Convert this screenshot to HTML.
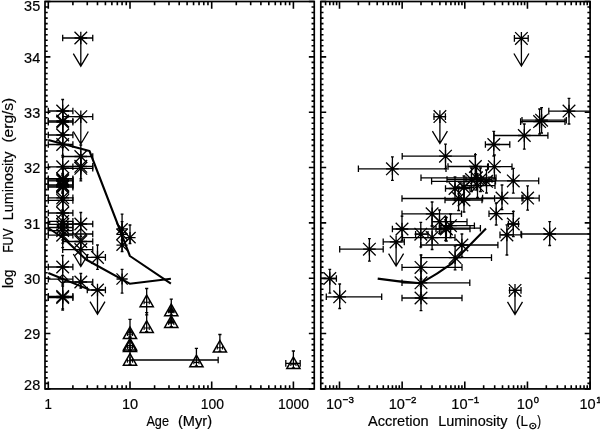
<!DOCTYPE html>
<html lang="en"><head><meta charset="utf-8"><title>FUV luminosity vs age and accretion luminosity</title>
<style>html,body{margin:0;padding:0;background:#fff}body{width:600px;height:430px;overflow:hidden}svg{display:block}text{font-family:"Liberation Sans",sans-serif;fill:#000;stroke:#000;stroke-width:0.18px}</style></head><body>
<svg width="600" height="430" viewBox="0 0 600 430">
<rect width="600" height="430" fill="#fff"/>
<defs><clipPath id="cl"><rect x="45" y="1.5" width="269.25" height="387.4"/></clipPath><clipPath id="cr"><rect x="320.8" y="1.5" width="269.3" height="387.4"/></clipPath></defs>
<g stroke="#000" fill="none" stroke-linecap="butt">
<rect x="45" y="1.5" width="269.25" height="387.4" stroke-width="1.7"/>
<path d="M48.3,388.9v-7.3 M48.3,1.5v7.3 M72.89,388.9v-3.7 M72.89,1.5v3.7 M87.28,388.9v-3.7 M87.28,1.5v3.7 M97.49,388.9v-3.7 M97.49,1.5v3.7 M105.41,388.9v-3.7 M105.41,1.5v3.7 M111.87,388.9v-3.7 M111.87,1.5v3.7 M117.34,388.9v-3.7 M117.34,1.5v3.7 M122.08,388.9v-3.7 M122.08,1.5v3.7 M126.26,388.9v-3.7 M126.26,1.5v3.7 M130,388.9v-7.3 M130,1.5v7.3 M154.59,388.9v-3.7 M154.59,1.5v3.7 M168.98,388.9v-3.7 M168.98,1.5v3.7 M179.19,388.9v-3.7 M179.19,1.5v3.7 M187.11,388.9v-3.7 M187.11,1.5v3.7 M193.57,388.9v-3.7 M193.57,1.5v3.7 M199.04,388.9v-3.7 M199.04,1.5v3.7 M203.78,388.9v-3.7 M203.78,1.5v3.7 M207.96,388.9v-3.7 M207.96,1.5v3.7 M211.7,388.9v-7.3 M211.7,1.5v7.3 M236.29,388.9v-3.7 M236.29,1.5v3.7 M250.68,388.9v-3.7 M250.68,1.5v3.7 M260.89,388.9v-3.7 M260.89,1.5v3.7 M268.81,388.9v-3.7 M268.81,1.5v3.7 M275.27,388.9v-3.7 M275.27,1.5v3.7 M280.74,388.9v-3.7 M280.74,1.5v3.7 M285.48,388.9v-3.7 M285.48,1.5v3.7 M289.66,388.9v-3.7 M289.66,1.5v3.7 M293.4,388.9v-7.3 M293.4,1.5v7.3 M45,388.9h5.4 M314.25,388.9h-5.4 M45,383.37h2.7 M314.25,383.37h-2.7 M45,377.83h2.7 M314.25,377.83h-2.7 M45,372.3h2.7 M314.25,372.3h-2.7 M45,366.76h2.7 M314.25,366.76h-2.7 M45,361.23h2.7 M314.25,361.23h-2.7 M45,355.69h2.7 M314.25,355.69h-2.7 M45,350.16h2.7 M314.25,350.16h-2.7 M45,344.63h2.7 M314.25,344.63h-2.7 M45,339.09h2.7 M314.25,339.09h-2.7 M45,333.56h5.4 M314.25,333.56h-5.4 M45,328.02h2.7 M314.25,328.02h-2.7 M45,322.49h2.7 M314.25,322.49h-2.7 M45,316.95h2.7 M314.25,316.95h-2.7 M45,311.42h2.7 M314.25,311.42h-2.7 M45,305.89h2.7 M314.25,305.89h-2.7 M45,300.35h2.7 M314.25,300.35h-2.7 M45,294.82h2.7 M314.25,294.82h-2.7 M45,289.28h2.7 M314.25,289.28h-2.7 M45,283.75h2.7 M314.25,283.75h-2.7 M45,278.21h5.4 M314.25,278.21h-5.4 M45,272.68h2.7 M314.25,272.68h-2.7 M45,267.15h2.7 M314.25,267.15h-2.7 M45,261.61h2.7 M314.25,261.61h-2.7 M45,256.08h2.7 M314.25,256.08h-2.7 M45,250.54h2.7 M314.25,250.54h-2.7 M45,245.01h2.7 M314.25,245.01h-2.7 M45,239.47h2.7 M314.25,239.47h-2.7 M45,233.94h2.7 M314.25,233.94h-2.7 M45,228.41h2.7 M314.25,228.41h-2.7 M45,222.87h5.4 M314.25,222.87h-5.4 M45,217.34h2.7 M314.25,217.34h-2.7 M45,211.8h2.7 M314.25,211.8h-2.7 M45,206.27h2.7 M314.25,206.27h-2.7 M45,200.73h2.7 M314.25,200.73h-2.7 M45,195.2h2.7 M314.25,195.2h-2.7 M45,189.67h2.7 M314.25,189.67h-2.7 M45,184.13h2.7 M314.25,184.13h-2.7 M45,178.6h2.7 M314.25,178.6h-2.7 M45,173.06h2.7 M314.25,173.06h-2.7 M45,167.53h5.4 M314.25,167.53h-5.4 M45,161.99h2.7 M314.25,161.99h-2.7 M45,156.46h2.7 M314.25,156.46h-2.7 M45,150.93h2.7 M314.25,150.93h-2.7 M45,145.39h2.7 M314.25,145.39h-2.7 M45,139.86h2.7 M314.25,139.86h-2.7 M45,134.32h2.7 M314.25,134.32h-2.7 M45,128.79h2.7 M314.25,128.79h-2.7 M45,123.25h2.7 M314.25,123.25h-2.7 M45,117.72h2.7 M314.25,117.72h-2.7 M45,112.19h5.4 M314.25,112.19h-5.4 M45,106.65h2.7 M314.25,106.65h-2.7 M45,101.12h2.7 M314.25,101.12h-2.7 M45,95.58h2.7 M314.25,95.58h-2.7 M45,90.05h2.7 M314.25,90.05h-2.7 M45,84.51h2.7 M314.25,84.51h-2.7 M45,78.98h2.7 M314.25,78.98h-2.7 M45,73.45h2.7 M314.25,73.45h-2.7 M45,67.91h2.7 M314.25,67.91h-2.7 M45,62.38h2.7 M314.25,62.38h-2.7 M45,56.84h5.4 M314.25,56.84h-5.4 M45,51.31h2.7 M314.25,51.31h-2.7 M45,45.77h2.7 M314.25,45.77h-2.7 M45,40.24h2.7 M314.25,40.24h-2.7 M45,34.71h2.7 M314.25,34.71h-2.7 M45,29.17h2.7 M314.25,29.17h-2.7 M45,23.64h2.7 M314.25,23.64h-2.7 M45,18.1h2.7 M314.25,18.1h-2.7 M45,12.57h2.7 M314.25,12.57h-2.7 M45,7.03h2.7 M314.25,7.03h-2.7 M45,1.5h5.4 M314.25,1.5h-5.4" stroke-width="1.6"/>
<rect x="320.8" y="1.5" width="269.3" height="387.4" stroke-width="1.7"/>
<path d="M325.6,388.9v-3.7 M325.6,1.5v3.7 M329.8,388.9v-3.7 M329.8,1.5v3.7 M333.43,388.9v-3.7 M333.43,1.5v3.7 M336.63,388.9v-3.7 M336.63,1.5v3.7 M339.5,388.9v-7.3 M339.5,1.5v7.3 M358.36,388.9v-3.7 M358.36,1.5v3.7 M369.39,388.9v-3.7 M369.39,1.5v3.7 M377.22,388.9v-3.7 M377.22,1.5v3.7 M383.29,388.9v-3.7 M383.29,1.5v3.7 M388.25,388.9v-3.7 M388.25,1.5v3.7 M392.45,388.9v-3.7 M392.45,1.5v3.7 M396.08,388.9v-3.7 M396.08,1.5v3.7 M399.28,388.9v-3.7 M399.28,1.5v3.7 M402.15,388.9v-7.3 M402.15,1.5v7.3 M421.01,388.9v-3.7 M421.01,1.5v3.7 M432.04,388.9v-3.7 M432.04,1.5v3.7 M439.87,388.9v-3.7 M439.87,1.5v3.7 M445.94,388.9v-3.7 M445.94,1.5v3.7 M450.9,388.9v-3.7 M450.9,1.5v3.7 M455.1,388.9v-3.7 M455.1,1.5v3.7 M458.73,388.9v-3.7 M458.73,1.5v3.7 M461.93,388.9v-3.7 M461.93,1.5v3.7 M464.8,388.9v-7.3 M464.8,1.5v7.3 M483.66,388.9v-3.7 M483.66,1.5v3.7 M494.69,388.9v-3.7 M494.69,1.5v3.7 M502.52,388.9v-3.7 M502.52,1.5v3.7 M508.59,388.9v-3.7 M508.59,1.5v3.7 M513.55,388.9v-3.7 M513.55,1.5v3.7 M517.75,388.9v-3.7 M517.75,1.5v3.7 M521.38,388.9v-3.7 M521.38,1.5v3.7 M524.58,388.9v-3.7 M524.58,1.5v3.7 M527.45,388.9v-7.3 M527.45,1.5v7.3 M546.31,388.9v-3.7 M546.31,1.5v3.7 M557.34,388.9v-3.7 M557.34,1.5v3.7 M565.17,388.9v-3.7 M565.17,1.5v3.7 M571.24,388.9v-3.7 M571.24,1.5v3.7 M576.2,388.9v-3.7 M576.2,1.5v3.7 M580.4,388.9v-3.7 M580.4,1.5v3.7 M584.03,388.9v-3.7 M584.03,1.5v3.7 M587.23,388.9v-3.7 M587.23,1.5v3.7 M590.1,388.9v-7.3 M590.1,1.5v7.3 M320.8,388.9h5.4 M590.1,388.9h-5.4 M320.8,383.37h2.7 M590.1,383.37h-2.7 M320.8,377.83h2.7 M590.1,377.83h-2.7 M320.8,372.3h2.7 M590.1,372.3h-2.7 M320.8,366.76h2.7 M590.1,366.76h-2.7 M320.8,361.23h2.7 M590.1,361.23h-2.7 M320.8,355.69h2.7 M590.1,355.69h-2.7 M320.8,350.16h2.7 M590.1,350.16h-2.7 M320.8,344.63h2.7 M590.1,344.63h-2.7 M320.8,339.09h2.7 M590.1,339.09h-2.7 M320.8,333.56h5.4 M590.1,333.56h-5.4 M320.8,328.02h2.7 M590.1,328.02h-2.7 M320.8,322.49h2.7 M590.1,322.49h-2.7 M320.8,316.95h2.7 M590.1,316.95h-2.7 M320.8,311.42h2.7 M590.1,311.42h-2.7 M320.8,305.89h2.7 M590.1,305.89h-2.7 M320.8,300.35h2.7 M590.1,300.35h-2.7 M320.8,294.82h2.7 M590.1,294.82h-2.7 M320.8,289.28h2.7 M590.1,289.28h-2.7 M320.8,283.75h2.7 M590.1,283.75h-2.7 M320.8,278.21h5.4 M590.1,278.21h-5.4 M320.8,272.68h2.7 M590.1,272.68h-2.7 M320.8,267.15h2.7 M590.1,267.15h-2.7 M320.8,261.61h2.7 M590.1,261.61h-2.7 M320.8,256.08h2.7 M590.1,256.08h-2.7 M320.8,250.54h2.7 M590.1,250.54h-2.7 M320.8,245.01h2.7 M590.1,245.01h-2.7 M320.8,239.47h2.7 M590.1,239.47h-2.7 M320.8,233.94h2.7 M590.1,233.94h-2.7 M320.8,228.41h2.7 M590.1,228.41h-2.7 M320.8,222.87h5.4 M590.1,222.87h-5.4 M320.8,217.34h2.7 M590.1,217.34h-2.7 M320.8,211.8h2.7 M590.1,211.8h-2.7 M320.8,206.27h2.7 M590.1,206.27h-2.7 M320.8,200.73h2.7 M590.1,200.73h-2.7 M320.8,195.2h2.7 M590.1,195.2h-2.7 M320.8,189.67h2.7 M590.1,189.67h-2.7 M320.8,184.13h2.7 M590.1,184.13h-2.7 M320.8,178.6h2.7 M590.1,178.6h-2.7 M320.8,173.06h2.7 M590.1,173.06h-2.7 M320.8,167.53h5.4 M590.1,167.53h-5.4 M320.8,161.99h2.7 M590.1,161.99h-2.7 M320.8,156.46h2.7 M590.1,156.46h-2.7 M320.8,150.93h2.7 M590.1,150.93h-2.7 M320.8,145.39h2.7 M590.1,145.39h-2.7 M320.8,139.86h2.7 M590.1,139.86h-2.7 M320.8,134.32h2.7 M590.1,134.32h-2.7 M320.8,128.79h2.7 M590.1,128.79h-2.7 M320.8,123.25h2.7 M590.1,123.25h-2.7 M320.8,117.72h2.7 M590.1,117.72h-2.7 M320.8,112.19h5.4 M590.1,112.19h-5.4 M320.8,106.65h2.7 M590.1,106.65h-2.7 M320.8,101.12h2.7 M590.1,101.12h-2.7 M320.8,95.58h2.7 M590.1,95.58h-2.7 M320.8,90.05h2.7 M590.1,90.05h-2.7 M320.8,84.51h2.7 M590.1,84.51h-2.7 M320.8,78.98h2.7 M590.1,78.98h-2.7 M320.8,73.45h2.7 M590.1,73.45h-2.7 M320.8,67.91h2.7 M590.1,67.91h-2.7 M320.8,62.38h2.7 M590.1,62.38h-2.7 M320.8,56.84h5.4 M590.1,56.84h-5.4 M320.8,51.31h2.7 M590.1,51.31h-2.7 M320.8,45.77h2.7 M590.1,45.77h-2.7 M320.8,40.24h2.7 M590.1,40.24h-2.7 M320.8,34.71h2.7 M590.1,34.71h-2.7 M320.8,29.17h2.7 M590.1,29.17h-2.7 M320.8,23.64h2.7 M590.1,23.64h-2.7 M320.8,18.1h2.7 M590.1,18.1h-2.7 M320.8,12.57h2.7 M590.1,12.57h-2.7 M320.8,7.03h2.7 M590.1,7.03h-2.7 M320.8,1.5h5.4 M590.1,1.5h-5.4" stroke-width="1.6"/>
</g>
<g stroke="#000" fill="none" clip-path="url(#cl)">
<path d="M48.3,111H72.89 M48.3,107.7V114.3 M72.89,107.7V114.3" stroke-width="1.3"/>
<path d="M62.69,99.5V123.5 M61.29,99.5H64.09 M61.29,123.5H64.09" stroke-width="1.3"/>
<path d="M56.39,111H68.99 M62.69,104.7V117.3 M56.39,104.7L68.99,117.3 M56.39,117.3L68.99,104.7" stroke-width="1.3"/>
<path d="M48.3,121H72.89 M48.3,117.7V124.3 M72.89,117.7V124.3" stroke-width="1.3"/>
<path d="M62.69,109.5V133.5 M61.29,109.5H64.09 M61.29,133.5H64.09" stroke-width="1.3"/>
<path d="M56.39,121H68.99 M62.69,114.7V127.3 M56.39,114.7L68.99,127.3 M56.39,127.3L68.99,114.7" stroke-width="1.3"/>
<path d="M48.3,122.2H72.89 M48.3,118.9V125.5 M72.89,118.9V125.5" stroke-width="1.3"/>
<path d="M62.69,110.7V134.7 M61.29,110.7H64.09 M61.29,134.7H64.09" stroke-width="1.3"/>
<path d="M56.39,122.2H68.99 M62.69,115.9V128.5 M56.39,115.9L68.99,128.5 M56.39,128.5L68.99,115.9" stroke-width="1.3"/>
<path d="M48.3,135H72.89 M48.3,131.7V138.3 M72.89,131.7V138.3" stroke-width="1.3"/>
<path d="M62.69,123.5V147.5 M61.29,123.5H64.09 M61.29,147.5H64.09" stroke-width="1.3"/>
<path d="M56.39,135H68.99 M62.69,128.7V141.3 M56.39,128.7L68.99,141.3 M56.39,141.3L68.99,128.7" stroke-width="1.3"/>
<path d="M48.3,144.5H72.89 M48.3,141.2V147.8 M72.89,141.2V147.8" stroke-width="1.3"/>
<path d="M62.69,133V157 M61.29,133H64.09 M61.29,157H64.09" stroke-width="1.3"/>
<path d="M56.39,144.5H68.99 M62.69,138.2V150.8 M56.39,138.2L68.99,150.8 M56.39,150.8L68.99,138.2" stroke-width="1.3"/>
<path d="M48.3,166.8H72.89 M48.3,163.5V170.1 M72.89,163.5V170.1" stroke-width="1.3"/>
<path d="M62.69,155.3V179.3 M61.29,155.3H64.09 M61.29,179.3H64.09" stroke-width="1.3"/>
<path d="M56.39,166.8H68.99 M62.69,160.5V173.1 M56.39,160.5L68.99,173.1 M56.39,173.1L68.99,160.5" stroke-width="1.3"/>
<path d="M48.3,178.7H72.89 M48.3,175.4V182 M72.89,175.4V182" stroke-width="1.3"/>
<path d="M62.69,167.2V191.2 M61.29,167.2H64.09 M61.29,191.2H64.09" stroke-width="1.3"/>
<path d="M56.39,178.7H68.99 M62.69,172.4V185 M56.39,172.4L68.99,185 M56.39,185L68.99,172.4" stroke-width="1.3"/>
<path d="M48.3,179.8H72.89 M48.3,176.5V183.1 M72.89,176.5V183.1" stroke-width="1.3"/>
<path d="M62.69,168.3V192.3 M61.29,168.3H64.09 M61.29,192.3H64.09" stroke-width="1.3"/>
<path d="M56.39,179.8H68.99 M62.69,173.5V186.1 M56.39,173.5L68.99,186.1 M56.39,186.1L68.99,173.5" stroke-width="1.3"/>
<path d="M48.3,180.9H72.89 M48.3,177.6V184.2 M72.89,177.6V184.2" stroke-width="1.3"/>
<path d="M62.69,169.4V193.4 M61.29,169.4H64.09 M61.29,193.4H64.09" stroke-width="1.3"/>
<path d="M56.39,180.9H68.99 M62.69,174.6V187.2 M56.39,174.6L68.99,187.2 M56.39,187.2L68.99,174.6" stroke-width="1.3"/>
<path d="M48.3,184.8H72.89 M48.3,181.5V188.1 M72.89,181.5V188.1" stroke-width="1.3"/>
<path d="M62.69,173.3V197.3 M61.29,173.3H64.09 M61.29,197.3H64.09" stroke-width="1.3"/>
<path d="M56.39,184.8H68.99 M62.69,178.5V191.1 M56.39,178.5L68.99,191.1 M56.39,191.1L68.99,178.5" stroke-width="1.3"/>
<path d="M48.3,186H72.89 M48.3,182.7V189.3 M72.89,182.7V189.3" stroke-width="1.3"/>
<path d="M62.69,174.5V198.5 M61.29,174.5H64.09 M61.29,198.5H64.09" stroke-width="1.3"/>
<path d="M56.39,186H68.99 M62.69,179.7V192.3 M56.39,179.7L68.99,192.3 M56.39,192.3L68.99,179.7" stroke-width="1.3"/>
<path d="M48.3,187.2H72.89 M48.3,183.9V190.5 M72.89,183.9V190.5" stroke-width="1.3"/>
<path d="M62.69,175.7V199.7 M61.29,175.7H64.09 M61.29,199.7H64.09" stroke-width="1.3"/>
<path d="M56.39,187.2H68.99 M62.69,180.9V193.5 M56.39,180.9L68.99,193.5 M56.39,193.5L68.99,180.9" stroke-width="1.3"/>
<path d="M48.3,197.8H72.89 M48.3,194.5V201.1 M72.89,194.5V201.1" stroke-width="1.3"/>
<path d="M62.69,186.3V210.3 M61.29,186.3H64.09 M61.29,210.3H64.09" stroke-width="1.3"/>
<path d="M56.39,197.8H68.99 M62.69,191.5V204.1 M56.39,191.5L68.99,204.1 M56.39,204.1L68.99,191.5" stroke-width="1.3"/>
<path d="M48.3,200.4H72.89 M48.3,197.1V203.7 M72.89,197.1V203.7" stroke-width="1.3"/>
<path d="M62.69,188.9V212.9 M61.29,188.9H64.09 M61.29,212.9H64.09" stroke-width="1.3"/>
<path d="M56.39,200.4H68.99 M62.69,194.1V206.7 M56.39,194.1L68.99,206.7 M56.39,206.7L68.99,194.1" stroke-width="1.3"/>
<path d="M48.3,213H72.89 M48.3,209.7V216.3 M72.89,209.7V216.3" stroke-width="1.3"/>
<path d="M62.69,201.5V225.5 M61.29,201.5H64.09 M61.29,225.5H64.09" stroke-width="1.3"/>
<path d="M56.39,213H68.99 M62.69,206.7V219.3 M56.39,206.7L68.99,219.3 M56.39,219.3L68.99,206.7" stroke-width="1.3"/>
<path d="M48.3,221.4H72.89 M48.3,218.1V224.7 M72.89,218.1V224.7" stroke-width="1.3"/>
<path d="M62.69,209.9V233.9 M61.29,209.9H64.09 M61.29,233.9H64.09" stroke-width="1.3"/>
<path d="M56.39,221.4H68.99 M62.69,215.1V227.7 M56.39,215.1L68.99,227.7 M56.39,227.7L68.99,215.1" stroke-width="1.3"/>
<path d="M48.3,224.4H72.89 M48.3,221.1V227.7 M72.89,221.1V227.7" stroke-width="1.3"/>
<path d="M62.69,212.9V236.9 M61.29,212.9H64.09 M61.29,236.9H64.09" stroke-width="1.3"/>
<path d="M56.39,224.4H68.99 M62.69,218.1V230.7 M56.39,218.1L68.99,230.7 M56.39,230.7L68.99,218.1" stroke-width="1.3"/>
<path d="M48.3,227.5H72.89 M48.3,224.2V230.8 M72.89,224.2V230.8" stroke-width="1.3"/>
<path d="M62.69,216V240 M61.29,216H64.09 M61.29,240H64.09" stroke-width="1.3"/>
<path d="M56.39,227.5H68.99 M62.69,221.2V233.8 M56.39,221.2L68.99,233.8 M56.39,233.8L68.99,221.2" stroke-width="1.3"/>
<path d="M48.3,230.6H72.89 M48.3,227.3V233.9 M72.89,227.3V233.9" stroke-width="1.3"/>
<path d="M62.69,219.1V243.1 M61.29,219.1H64.09 M61.29,243.1H64.09" stroke-width="1.3"/>
<path d="M56.39,230.6H68.99 M62.69,224.3V236.9 M56.39,224.3L68.99,236.9 M56.39,236.9L68.99,224.3" stroke-width="1.3"/>
<path d="M48.3,235.2H72.89 M48.3,231.9V238.5 M72.89,231.9V238.5" stroke-width="1.3"/>
<path d="M62.69,223.7V247.7 M61.29,223.7H64.09 M61.29,247.7H64.09" stroke-width="1.3"/>
<path d="M56.39,235.2H68.99 M62.69,228.9V241.5 M56.39,228.9L68.99,241.5 M56.39,241.5L68.99,228.9" stroke-width="1.3"/>
<path d="M48.3,267H72.89 M48.3,263.7V270.3 M72.89,263.7V270.3" stroke-width="1.3"/>
<path d="M62.69,255.5V279.5 M61.29,255.5H64.09 M61.29,279.5H64.09" stroke-width="1.3"/>
<path d="M56.39,267H68.99 M62.69,260.7V273.3 M56.39,260.7L68.99,273.3 M56.39,273.3L68.99,260.7" stroke-width="1.3"/>
<path d="M48.3,296.4H72.89 M48.3,293.1V299.7 M72.89,293.1V299.7" stroke-width="1.3"/>
<path d="M62.69,284.9V308.9 M61.29,284.9H64.09 M61.29,308.9H64.09" stroke-width="1.3"/>
<path d="M56.39,296.4H68.99 M62.69,290.1V302.7 M56.39,290.1L68.99,302.7 M56.39,302.7L68.99,290.1" stroke-width="1.3"/>
<path d="M48.3,297.6H72.89 M48.3,294.3V300.9 M72.89,294.3V300.9" stroke-width="1.3"/>
<path d="M62.69,286.1V310.1 M61.29,286.1H64.09 M61.29,310.1H64.09" stroke-width="1.3"/>
<path d="M56.39,297.6H68.99 M62.69,291.3V303.9 M56.39,291.3L68.99,303.9 M56.39,303.9L68.99,291.3" stroke-width="1.3"/>
<path d="M48.3,279.2H72.89 M48.3,275.9V282.5 M72.89,275.9V282.5" stroke-width="1.3"/>
<path d="M62.69,274.6L67.29,279.2L62.69,283.8L58.09,279.2Z" stroke-width="1.3"/>
<path d="M62.69,234H92.75 M62.69,230.7V237.3 M92.75,230.7V237.3" stroke-width="1.3"/>
<path d="M80.81,228.7L86.31,234.2L80.81,239.7L75.31,234.2Z" stroke-width="1.3"/>
<path d="M62.69,156.5H92.75 M62.69,153.2V159.8 M92.75,153.2V159.8" stroke-width="1.3"/>
<path d="M80.81,145V169 M79.41,145H82.21 M79.41,169H82.21" stroke-width="1.3"/>
<path d="M74.51,156.5H87.11 M80.81,150.2V162.8 M74.51,150.2L87.11,162.8 M74.51,162.8L87.11,150.2" stroke-width="1.3"/>
<path d="M62.69,166.3H92.75 M62.69,163V169.6 M92.75,163V169.6" stroke-width="1.3"/>
<path d="M80.81,154.8V178.8 M79.41,154.8H82.21 M79.41,178.8H82.21" stroke-width="1.3"/>
<path d="M74.51,166.3H87.11 M80.81,160V172.6 M74.51,160L87.11,172.6 M74.51,172.6L87.11,160" stroke-width="1.3"/>
<path d="M62.69,168.3H92.75 M62.69,165V171.6 M92.75,165V171.6" stroke-width="1.3"/>
<path d="M80.81,156.8V180.8 M79.41,156.8H82.21 M79.41,180.8H82.21" stroke-width="1.3"/>
<path d="M74.51,168.3H87.11 M80.81,162V174.6 M74.51,162L87.11,174.6 M74.51,174.6L87.11,162" stroke-width="1.3"/>
<path d="M62.69,224H92.75 M62.69,220.7V227.3 M92.75,220.7V227.3" stroke-width="1.3"/>
<path d="M80.81,212.5V236.5 M79.41,212.5H82.21 M79.41,236.5H82.21" stroke-width="1.3"/>
<path d="M74.51,224H87.11 M80.81,217.7V230.3 M74.51,217.7L87.11,230.3 M74.51,230.3L87.11,217.7" stroke-width="1.3"/>
<path d="M62.69,249.6H92.75 M62.69,246.3V252.9 M92.75,246.3V252.9" stroke-width="1.3"/>
<path d="M74.51,249.6H87.11 M80.81,243.3V255.9 M74.51,243.3L87.11,255.9 M74.51,255.9L87.11,243.3" stroke-width="1.3"/>
<path d="M62.69,282H92.75 M62.69,278.7V285.3 M92.75,278.7V285.3" stroke-width="1.3"/>
<path d="M80.81,273.5V288 M79.41,273.5H82.21 M79.41,288H82.21" stroke-width="1.3"/>
<path d="M74.51,282H87.11 M80.81,275.7V288.3 M74.51,275.7L87.11,288.3 M74.51,288.3L87.11,275.7" stroke-width="1.3"/>
<path d="M62.69,38H92.75 M62.69,34.7V41.3 M92.75,34.7V41.3" stroke-width="1.3"/>
<path d="M74.51,38H87.11 M80.81,31.7V44.3 M74.51,31.7L87.11,44.3 M74.51,44.3L87.11,31.7" stroke-width="1.3"/>
<path d="M80.81,38V66.2 M73.31,53.7L80.81,66.2L88.31,53.7" stroke-width="1.3" stroke-linejoin="miter"/>
<path d="M62.69,116.7H92.75 M62.69,113.4V120 M92.75,113.4V120" stroke-width="1.3"/>
<path d="M74.51,116.7H87.11 M80.81,110.4V123 M74.51,110.4L87.11,123 M74.51,123L87.11,110.4" stroke-width="1.3"/>
<path d="M80.81,116.7V144 M73.31,131.5L80.81,144L88.31,131.5" stroke-width="1.3" stroke-linejoin="miter"/>
<path d="M62.69,241.5H92.75 M62.69,238.2V244.8 M92.75,238.2V244.8" stroke-width="1.3"/>
<path d="M74.51,241.5H87.11 M80.81,235.2V247.8 M74.51,235.2L87.11,247.8 M74.51,247.8L87.11,235.2" stroke-width="1.3"/>
<path d="M80.81,241.5V266.5 M73.31,254L80.81,266.5L88.31,254" stroke-width="1.3" stroke-linejoin="miter"/>
<path d="M87.28,257.4H105.41 M87.28,254.1V260.7 M105.41,254.1V260.7" stroke-width="1.3"/>
<path d="M97.49,245V269.4 M96.09,245H98.89 M96.09,269.4H98.89" stroke-width="1.3"/>
<path d="M91.19,257.4H103.79 M97.49,251.1V263.7 M91.19,251.1L103.79,263.7 M91.19,263.7L103.79,251.1" stroke-width="1.3"/>
<path d="M87.28,290H105.41 M87.28,286.7V293.3 M105.41,286.7V293.3" stroke-width="1.3"/>
<path d="M91.19,290H103.79 M97.49,283.7V296.3 M91.19,283.7L103.79,296.3 M91.19,296.3L103.79,283.7" stroke-width="1.3"/>
<path d="M97.49,290V314.2 M89.99,301.7L97.49,314.2L104.99,301.7" stroke-width="1.3" stroke-linejoin="miter"/>
<path d="M122.08,214.2V240 M120.68,214.2H123.48 M120.68,240H123.48" stroke-width="1.3"/>
<path d="M116.48,228.8H127.68 M122.08,223.2V234.4 M116.48,223.2L127.68,234.4 M116.48,234.4L127.68,223.2" stroke-width="1.3"/>
<path d="M122.08,221.6V245 M120.68,221.6H123.48 M120.68,245H123.48" stroke-width="1.3"/>
<path d="M116.48,234.4H127.68 M122.08,228.8V240 M116.48,228.8L127.68,240 M116.48,240L127.68,228.8" stroke-width="1.3"/>
<path d="M122.08,233.5V251.5 M120.68,233.5H123.48 M120.68,251.5H123.48" stroke-width="1.3"/>
<path d="M116.48,245.2H127.68 M122.08,239.6V250.8 M116.48,239.6L127.68,250.8 M116.48,250.8L127.68,239.6" stroke-width="1.3"/>
<path d="M130,225V243.5 M128.6,225H131.4 M128.6,243.5H131.4" stroke-width="1.3"/>
<path d="M124.4,237.6H135.6 M130,232V243.2 M124.4,232L135.6,243.2 M124.4,243.2L135.6,232" stroke-width="1.3"/>
<path d="M122.08,269.3V293.2 M120.68,269.3H123.48 M120.68,293.2H123.48" stroke-width="1.3"/>
<path d="M116.48,279H127.68 M122.08,273.4V284.6 M116.48,273.4L127.68,284.6 M116.48,284.6L127.68,273.4" stroke-width="1.3"/>
<path d="M146.68,295.1L153.28,306.7L140.08,306.7Z" stroke-width="1.5" stroke-linejoin="miter"/>
<path d="M146.68,288.5V314.9 M145.08,288.5H148.28 M145.08,314.9H148.28" stroke-width="1.3"/>
<path d="M144.08,302.3H149.28 M144.08,300.4V304.2 M149.28,300.4V304.2" stroke-width="1.1"/>
<path d="M146.68,320.8L153.28,332.4L140.08,332.4Z" stroke-width="1.5" stroke-linejoin="miter"/>
<path d="M146.68,312.6V331.6 M145.08,312.6H148.28 M145.08,331.6H148.28" stroke-width="1.3"/>
<path d="M144.08,328H149.28 M144.08,326.1V329.9 M149.28,326.1V329.9" stroke-width="1.1"/>
<path d="M171.27,304.1L177.87,315.7L164.67,315.7Z" stroke-width="1.5" stroke-linejoin="miter"/>
<path d="M171.27,299.1V314.9 M169.67,299.1H172.87 M169.67,314.9H172.87" stroke-width="1.3"/>
<path d="M168.67,311.3H173.87 M168.67,309.4V313.2 M173.87,309.4V313.2" stroke-width="1.1"/>
<path d="M171.27,315.8L177.87,327.4L164.67,327.4Z" stroke-width="1.5" stroke-linejoin="miter"/>
<path d="M171.27,312.6V326.6 M169.67,312.6H172.87 M169.67,326.6H172.87" stroke-width="1.3"/>
<path d="M168.67,323H173.87 M168.67,321.1V324.9 M173.87,321.1V324.9" stroke-width="1.1"/>
<path d="M171.27,305.5L174.47,312.2L168.07,312.2Z" stroke-width="0.8" fill="#000"/>
<path d="M171.27,317.2L174.07,323L168.47,323Z" stroke-width="0.8" fill="#000"/>
<path d="M130,328.4L132.2,333L127.8,333Z" stroke-width="0.8" fill="#000"/>
<path d="M130,327L136.6,338.6L123.4,338.6Z" stroke-width="1.5" stroke-linejoin="miter"/>
<path d="M130,319.4V337.8 M128.4,319.4H131.6 M128.4,337.8H131.6" stroke-width="1.3"/>
<path d="M127.4,334.2H132.6 M127.4,332.3V336.1 M132.6,332.3V336.1" stroke-width="1.1"/>
<path d="M130,338.4L136.6,350L123.4,350Z" stroke-width="1.5" stroke-linejoin="miter"/>
<path d="M130,336.2V349.2 M128.4,336.2H131.6 M128.4,349.2H131.6" stroke-width="1.3"/>
<path d="M127.4,345.6H132.6 M127.4,343.7V347.5 M132.6,343.7V347.5" stroke-width="1.1"/>
<path d="M130,340L136.6,351.6L123.4,351.6Z" stroke-width="1.5" stroke-linejoin="miter"/>
<path d="M130,337.8V350.8 M128.4,337.8H131.6 M128.4,350.8H131.6" stroke-width="1.3"/>
<path d="M127.4,347.2H132.6 M127.4,345.3V349.1 M132.6,345.3V349.1" stroke-width="1.1"/>
<path d="M130,353.6L136.6,365.2L123.4,365.2Z" stroke-width="1.5" stroke-linejoin="miter"/>
<path d="M130,350.4V364.4 M128.4,350.4H131.6 M128.4,364.4H131.6" stroke-width="1.3"/>
<path d="M130,360H218.17 M130,356.7V363.3 M218.17,356.7V363.3" stroke-width="1.3"/>
<path d="M127.4,360.8H132.6 M127.4,358.9V362.7 M132.6,358.9V362.7" stroke-width="1.1"/>
<path d="M196.42,355.2L203.02,366.8L189.82,366.8Z" stroke-width="1.5" stroke-linejoin="miter"/>
<path d="M196.42,348.4V366 M194.82,348.4H198.02 M194.82,366H198.02" stroke-width="1.3"/>
<path d="M193.82,362.4H199.02 M193.82,360.5V364.3 M199.02,360.5V364.3" stroke-width="1.1"/>
<path d="M219.9,340.5L226.5,352.1L213.3,352.1Z" stroke-width="1.5" stroke-linejoin="miter"/>
<path d="M219.9,334.5V351.3 M218.3,334.5H221.5 M218.3,351.3H221.5" stroke-width="1.3"/>
<path d="M217.3,347.7H222.5 M217.3,345.8V349.6 M222.5,345.8V349.6" stroke-width="1.1"/>
<path d="M293.4,357L300,368.6L286.8,368.6Z" stroke-width="1.5" stroke-linejoin="miter"/>
<path d="M293.4,351V367.8 M291.8,351H295 M291.8,367.8H295" stroke-width="1.3"/>
<path d="M285.8,363.4H300.2 M285.8,360.1V366.7 M300.2,360.1V366.7" stroke-width="1.3"/>
<path d="M290.8,364.2H296 M290.8,362.3V366.1 M296,362.3V366.1" stroke-width="1.1"/>
<path d="M48.3,140L89.5,151L129.9,256L170.9,283.6" stroke-width="2.1" stroke-linejoin="round"/>
<path d="M48.3,228L64,238.5L86,259.5L129.7,283.7L170.9,278.8" stroke-width="2.1" stroke-linejoin="round"/>
<path d="M48.3,273L89.3,289.6" stroke-width="2.1"/>
</g>
<g stroke="#000" fill="none" clip-path="url(#cr)">
<path d="M548.8,111.1H600 M548.8,107.8V114.4 M600,107.8V114.4" stroke-width="1.3"/>
<path d="M569,98.3V124 M567.6,98.3H570.4 M567.6,124H570.4" stroke-width="1.3"/>
<path d="M562.7,111.1H575.3 M569,104.8V117.4 M562.7,104.8L575.3,117.4 M562.7,117.4L575.3,104.8" stroke-width="1.3"/>
<path d="M520.6,121.6H565 M520.6,118.3V124.9 M565,118.3V124.9" stroke-width="1.3"/>
<path d="M539.6,109V134 M538.2,109H541 M538.2,134H541" stroke-width="1.3"/>
<path d="M533.3,121.6H545.9 M539.6,115.3V127.9 M533.3,115.3L545.9,127.9 M533.3,127.9L545.9,115.3" stroke-width="1.3"/>
<path d="M522,120.2H566.3 M522,116.9V123.5 M566.3,116.9V123.5" stroke-width="1.3"/>
<path d="M541.6,107.6V133 M540.2,107.6H543 M540.2,133H543" stroke-width="1.3"/>
<path d="M535.3,120.2H547.9 M541.6,113.9V126.5 M535.3,113.9L547.9,126.5 M535.3,126.5L547.9,113.9" stroke-width="1.3"/>
<path d="M494,135.5H547.9 M494,132.2V138.8 M547.9,132.2V138.8" stroke-width="1.3"/>
<path d="M524.3,124V149.1 M522.9,124H525.7 M522.9,149.1H525.7" stroke-width="1.3"/>
<path d="M518,135.5H530.6 M524.3,129.2V141.8 M518,129.2L530.6,141.8 M518,141.8L530.6,129.2" stroke-width="1.3"/>
<path d="M485.4,144.5H509.8 M485.4,141.2V147.8 M509.8,141.2V147.8" stroke-width="1.3"/>
<path d="M493.8,131.3V156 M492.4,131.3H495.2 M492.4,156H495.2" stroke-width="1.3"/>
<path d="M487.5,144.5H500.1 M493.8,138.2V150.8 M487.5,138.2L500.1,150.8 M487.5,150.8L500.1,138.2" stroke-width="1.3"/>
<path d="M402.2,156.2H475.3 M402.2,152.9V159.5 M475.3,152.9V159.5" stroke-width="1.3"/>
<path d="M445.5,144.2V168.6 M444.1,144.2H446.9 M444.1,168.6H446.9" stroke-width="1.3"/>
<path d="M439.2,156.2H451.8 M445.5,149.9V162.5 M439.2,149.9L451.8,162.5 M439.2,162.5L451.8,149.9" stroke-width="1.3"/>
<path d="M448,166.5H488.4 M448,163.2V169.8 M488.4,163.2V169.8" stroke-width="1.3"/>
<path d="M475.4,154.6V178.6 M474,154.6H476.8 M474,178.6H476.8" stroke-width="1.3"/>
<path d="M469.1,166.5H481.7 M475.4,160.2V172.8 M469.1,160.2L481.7,172.8 M469.1,172.8L481.7,160.2" stroke-width="1.3"/>
<path d="M487.6,166.7H512 M487.6,163.4V170 M512,163.4V170" stroke-width="1.3"/>
<path d="M494.4,155V179 M493,155H495.8 M493,179H495.8" stroke-width="1.3"/>
<path d="M488.1,166.7H500.7 M494.4,160.4V173 M488.1,160.4L500.7,173 M488.1,173L500.7,160.4" stroke-width="1.3"/>
<path d="M358.4,168.8H446 M358.4,165.5V172.1 M446,165.5V172.1" stroke-width="1.3"/>
<path d="M392.4,156.9V180.4 M391,156.9H393.8 M391,180.4H393.8" stroke-width="1.3"/>
<path d="M386.1,168.8H398.7 M392.4,162.5V175.1 M386.1,162.5L398.7,175.1 M386.1,175.1L398.7,162.5" stroke-width="1.3"/>
<path d="M445.5,188.5H470 M445.5,185.2V191.8 M470,185.2V191.8" stroke-width="1.3"/>
<path d="M455,177V200.5 M453.6,177H456.4 M453.6,200.5H456.4" stroke-width="1.3"/>
<path d="M448.7,188.5H461.3 M455,182.2V194.8 M448.7,182.2L461.3,194.8 M448.7,194.8L461.3,182.2" stroke-width="1.3"/>
<path d="M455,187.5H474 M455,184.2V190.8 M474,184.2V190.8" stroke-width="1.3"/>
<path d="M464,176V199.5 M462.6,176H465.4 M462.6,199.5H465.4" stroke-width="1.3"/>
<path d="M457.7,187.5H470.3 M464,181.2V193.8 M457.7,181.2L470.3,193.8 M457.7,193.8L470.3,181.2" stroke-width="1.3"/>
<path d="M447,179.5H489 M447,176.2V182.8 M489,176.2V182.8" stroke-width="1.3"/>
<path d="M471.5,168V191.5 M470.1,168H472.9 M470.1,191.5H472.9" stroke-width="1.3"/>
<path d="M465.2,179.5H477.8 M471.5,173.2V185.8 M465.2,173.2L477.8,185.8 M465.2,185.8L477.8,173.2" stroke-width="1.3"/>
<path d="M421,177.8H496 M421,174.5V181.1 M496,174.5V181.1" stroke-width="1.3"/>
<path d="M476.5,166V190 M475.1,166H477.9 M475.1,190H477.9" stroke-width="1.3"/>
<path d="M470.2,177.8H482.8 M476.5,171.5V184.1 M470.2,171.5L482.8,184.1 M470.2,184.1L482.8,171.5" stroke-width="1.3"/>
<path d="M466,179.5H492 M466,176.2V182.8 M492,176.2V182.8" stroke-width="1.3"/>
<path d="M480.5,168V191.5 M479.1,168H481.9 M479.1,191.5H481.9" stroke-width="1.3"/>
<path d="M474.2,179.5H486.8 M480.5,173.2V185.8 M474.2,173.2L486.8,185.8 M474.2,185.8L486.8,173.2" stroke-width="1.3"/>
<path d="M431.6,181.3H495.5 M431.6,178V184.6 M495.5,178V184.6" stroke-width="1.3"/>
<path d="M486.5,170V193 M485.1,170H487.9 M485.1,193H487.9" stroke-width="1.3"/>
<path d="M480.2,181.3H492.8 M486.5,175V187.6 M480.2,175L492.8,187.6 M480.2,187.6L492.8,175" stroke-width="1.3"/>
<path d="M462,185.6H495 M462,182.3V188.9 M495,182.3V188.9" stroke-width="1.3"/>
<path d="M477.5,174V197.5 M476.1,174H478.9 M476.1,197.5H478.9" stroke-width="1.3"/>
<path d="M471.2,185.6H483.8 M477.5,179.3V191.9 M471.2,179.3L483.8,191.9 M471.2,191.9L483.8,179.3" stroke-width="1.3"/>
<path d="M402,198.5H494.6 M402,195.2V201.8 M494.6,195.2V201.8" stroke-width="1.3"/>
<path d="M458.6,187V210.5 M457.2,187H460 M457.2,210.5H460" stroke-width="1.3"/>
<path d="M452.3,198.5H464.9 M458.6,192.2V204.8 M452.3,192.2L464.9,204.8 M452.3,204.8L464.9,192.2" stroke-width="1.3"/>
<path d="M445,200H482 M445,196.7V203.3 M482,196.7V203.3" stroke-width="1.3"/>
<path d="M464,188.5V212 M462.6,188.5H465.4 M462.6,212H465.4" stroke-width="1.3"/>
<path d="M457.7,200H470.3 M464,193.7V206.3 M457.7,193.7L470.3,206.3 M457.7,206.3L470.3,193.7" stroke-width="1.3"/>
<path d="M485,180.9H538.7 M485,177.6V184.2 M538.7,177.6V184.2" stroke-width="1.3"/>
<path d="M513.3,168.4V193.2 M511.9,168.4H514.7 M511.9,193.2H514.7" stroke-width="1.3"/>
<path d="M507,180.9H519.6 M513.3,174.6V187.2 M507,174.6L519.6,187.2 M507,187.2L519.6,174.6" stroke-width="1.3"/>
<path d="M482.6,198.1H523 M482.6,194.8V201.4 M523,194.8V201.4" stroke-width="1.3"/>
<path d="M502,185V209.7 M500.6,185H503.4 M500.6,209.7H503.4" stroke-width="1.3"/>
<path d="M495.7,198.1H508.3 M502,191.8V204.4 M495.7,191.8L508.3,204.4 M495.7,204.4L508.3,191.8" stroke-width="1.3"/>
<path d="M522,198.1H539.2 M522,194.8V201.4 M539.2,194.8V201.4" stroke-width="1.3"/>
<path d="M527.6,185.8V210.2 M526.2,185.8H529 M526.2,210.2H529" stroke-width="1.3"/>
<path d="M521.3,198.1H533.9 M527.6,191.8V204.4 M521.3,191.8L533.9,204.4 M521.3,204.4L533.9,191.8" stroke-width="1.3"/>
<path d="M489,213.7H513.5 M489,210.4V217 M513.5,210.4V217" stroke-width="1.3"/>
<path d="M496.2,203V225 M494.8,203H497.6 M494.8,225H497.6" stroke-width="1.3"/>
<path d="M489.9,213.7H502.5 M496.2,207.4V220 M489.9,207.4L502.5,220 M489.9,220L502.5,207.4" stroke-width="1.3"/>
<path d="M508.4,224H518.5 M508.4,220.7V227.3 M518.5,220.7V227.3" stroke-width="1.3"/>
<path d="M513.3,211.3V236.7 M511.9,211.3H514.7 M511.9,236.7H514.7" stroke-width="1.3"/>
<path d="M507,224H519.6 M513.3,217.7V230.3 M507,217.7L519.6,230.3 M507,230.3L519.6,217.7" stroke-width="1.3"/>
<path d="M500,234.9H521.6 M500,231.6V238.2 M521.6,231.6V238.2" stroke-width="1.3"/>
<path d="M506.9,224.8V255 M505.5,224.8H508.3 M505.5,255H508.3" stroke-width="1.3"/>
<path d="M500.6,234.9H513.2 M506.9,228.6V241.2 M500.6,228.6L513.2,241.2 M500.6,241.2L513.2,228.6" stroke-width="1.3"/>
<path d="M521,234H600 M521,230.7V237.3 M600,230.7V237.3" stroke-width="1.3"/>
<path d="M549.7,221.7V245.5 M548.3,221.7H551.1 M548.3,245.5H551.1" stroke-width="1.3"/>
<path d="M543.4,234H556 M549.7,227.7V240.3 M543.4,227.7L556,240.3 M543.4,240.3L556,227.7" stroke-width="1.3"/>
<path d="M402,213.8H461.5 M402,210.5V217.1 M461.5,210.5V217.1" stroke-width="1.3"/>
<path d="M432.1,202V226 M430.7,202H433.5 M430.7,226H433.5" stroke-width="1.3"/>
<path d="M425.8,213.8H438.4 M432.1,207.5V220.1 M425.8,207.5L438.4,220.1 M425.8,220.1L438.4,207.5" stroke-width="1.3"/>
<path d="M432,221.7H467 M432,218.4V225 M467,218.4V225" stroke-width="1.3"/>
<path d="M439.5,210V233.5 M438.1,210H440.9 M438.1,233.5H440.9" stroke-width="1.3"/>
<path d="M433.2,221.7H445.8 M439.5,215.4V228 M433.2,215.4L445.8,228 M433.2,228L445.8,215.4" stroke-width="1.3"/>
<path d="M439.5,228.2H480.4 M439.5,224.9V231.5 M480.4,224.9V231.5" stroke-width="1.3"/>
<path d="M445.6,217V240.5 M444.2,217H447 M444.2,240.5H447" stroke-width="1.3"/>
<path d="M439.3,228.2H451.9 M445.6,221.9V234.5 M439.3,221.9L451.9,234.5 M439.3,234.5L451.9,221.9" stroke-width="1.3"/>
<path d="M436,229H470 M436,225.7V232.3 M470,225.7V232.3" stroke-width="1.3"/>
<path d="M446.4,217.5V241 M445,217.5H447.8 M445,241H447.8" stroke-width="1.3"/>
<path d="M440.1,229H452.7 M446.4,222.7V235.3 M440.1,222.7L452.7,235.3 M440.1,235.3L452.7,222.7" stroke-width="1.3"/>
<path d="M440,225.7H474.4 M440,222.4V229 M474.4,222.4V229" stroke-width="1.3"/>
<path d="M450.5,214V237.5 M449.1,214H451.9 M449.1,237.5H451.9" stroke-width="1.3"/>
<path d="M444.2,225.7H456.8 M450.5,219.4V232 M444.2,219.4L456.8,232 M444.2,232L456.8,219.4" stroke-width="1.3"/>
<path d="M392.4,229H441 M392.4,225.7V232.3 M441,225.7V232.3" stroke-width="1.3"/>
<path d="M402,216.2V240.4 M400.6,216.2H403.4 M400.6,240.4H403.4" stroke-width="1.3"/>
<path d="M395.7,229H408.3 M402,222.7V235.3 M395.7,222.7L408.3,235.3 M395.7,235.3L408.3,222.7" stroke-width="1.3"/>
<path d="M415.6,234.2H428 M415.6,230.9V237.5 M428,230.9V237.5" stroke-width="1.3"/>
<path d="M420.8,222.4V246.8 M419.4,222.4H422.2 M419.4,246.8H422.2" stroke-width="1.3"/>
<path d="M414.5,234.2H427.1 M420.8,227.9V240.5 M414.5,227.9L427.1,240.5 M414.5,240.5L427.1,227.9" stroke-width="1.3"/>
<path d="M402.5,237.6H455 M402.5,234.3V240.9 M455,234.3V240.9" stroke-width="1.3"/>
<path d="M432.1,226V249.5 M430.7,226H433.5 M430.7,249.5H433.5" stroke-width="1.3"/>
<path d="M425.8,237.6H438.4 M432.1,231.3V243.9 M425.8,231.3L438.4,243.9 M425.8,243.9L438.4,231.3" stroke-width="1.3"/>
<path d="M420.8,245H497.9 M420.8,241.7V248.3 M497.9,241.7V248.3" stroke-width="1.3"/>
<path d="M461.9,234V257 M460.5,234H463.3 M460.5,257H463.3" stroke-width="1.3"/>
<path d="M455.6,245H468.2 M461.9,238.7V251.3 M455.6,238.7L468.2,251.3 M455.6,251.3L468.2,238.7" stroke-width="1.3"/>
<path d="M421.1,257.6H491.5 M421.1,254.3V260.9 M491.5,254.3V260.9" stroke-width="1.3"/>
<path d="M455.1,246V269.8 M453.7,246H456.5 M453.7,269.8H456.5" stroke-width="1.3"/>
<path d="M448.8,257.6H461.4 M455.1,251.3V263.9 M448.8,251.3L461.4,263.9 M448.8,263.9L461.4,251.3" stroke-width="1.3"/>
<path d="M402,267.4H462 M402,264.1V270.7 M462,264.1V270.7" stroke-width="1.3"/>
<path d="M421,255V279 M419.6,255H422.4 M419.6,279H422.4" stroke-width="1.3"/>
<path d="M414.7,267.4H427.3 M421,261.1V273.7 M414.7,261.1L427.3,273.7 M414.7,273.7L427.3,261.1" stroke-width="1.3"/>
<path d="M402,282.8H469.8 M402,279.5V286.1 M469.8,279.5V286.1" stroke-width="1.3"/>
<path d="M421,271V295 M419.6,271H422.4 M419.6,295H422.4" stroke-width="1.3"/>
<path d="M414.7,282.8H427.3 M421,276.5V289.1 M414.7,276.5L427.3,289.1 M414.7,289.1L427.3,276.5" stroke-width="1.3"/>
<path d="M402,298H462 M402,294.7V301.3 M462,294.7V301.3" stroke-width="1.3"/>
<path d="M421,286V310.6 M419.6,286H422.4 M419.6,310.6H422.4" stroke-width="1.3"/>
<path d="M414.7,298H427.3 M421,291.7V304.3 M414.7,291.7L427.3,304.3 M414.7,304.3L427.3,291.7" stroke-width="1.3"/>
<path d="M339.7,249.2H383.2 M339.7,245.9V252.5 M383.2,245.9V252.5" stroke-width="1.3"/>
<path d="M369.4,238.6V261.2 M368,238.6H370.8 M368,261.2H370.8" stroke-width="1.3"/>
<path d="M363.1,249.2H375.7 M369.4,242.9V255.5 M363.1,242.9L375.7,255.5 M363.1,255.5L375.7,242.9" stroke-width="1.3"/>
<path d="M310,278.5H336.4 M310,275.2V281.8 M336.4,275.2V281.8" stroke-width="1.3"/>
<path d="M329.8,269.3V293.2 M328.4,269.3H331.2 M328.4,293.2H331.2" stroke-width="1.3"/>
<path d="M323.5,278.5H336.1 M329.8,272.2V284.8 M323.5,272.2L336.1,284.8 M323.5,284.8L336.1,272.2" stroke-width="1.3"/>
<path d="M326.3,296.8H381.7 M326.3,293.5V300.1 M381.7,293.5V300.1" stroke-width="1.3"/>
<path d="M339.7,284V308.5 M338.3,284H341.1 M338.3,308.5H341.1" stroke-width="1.3"/>
<path d="M333.4,296.8H346 M339.7,290.5V303.1 M333.4,290.5L346,303.1 M333.4,303.1L346,290.5" stroke-width="1.3"/>
<path d="M514.4,38.4H528.2 M514.4,35.1V41.7 M528.2,35.1V41.7" stroke-width="1.3"/>
<path d="M515.1,38.4H527.7 M521.4,32.1V44.7 M515.1,32.1L527.7,44.7 M515.1,44.7L527.7,32.1" stroke-width="1.3"/>
<path d="M521.4,38.4V66 M513.9,53.5L521.4,66L528.9,53.5" stroke-width="1.3" stroke-linejoin="miter"/>
<path d="M434,116.6H445.4 M434,113.3V119.9 M445.4,113.3V119.9" stroke-width="1.3"/>
<path d="M433.6,116.6H446.2 M439.9,110.3V122.9 M433.6,110.3L446.2,122.9 M433.6,122.9L446.2,110.3" stroke-width="1.3"/>
<path d="M439.9,116.6V143.6 M432.4,131.1L439.9,143.6L447.4,131.1" stroke-width="1.3" stroke-linejoin="miter"/>
<path d="M383.2,241.9H404.3 M383.2,238.6V245.2 M404.3,238.6V245.2" stroke-width="1.3"/>
<path d="M389.8,241.9H402.4 M396.1,235.6V248.2 M389.8,235.6L402.4,248.2 M389.8,248.2L402.4,235.6" stroke-width="1.3"/>
<path d="M396.1,241.9V266.1 M388.6,253.6L396.1,266.1L403.6,253.6" stroke-width="1.3" stroke-linejoin="miter"/>
<path d="M509.6,290.4H521 M509.6,287.1V293.7 M521,287.1V293.7" stroke-width="1.3"/>
<path d="M508.7,290.4H521.3 M515,284.1V296.7 M508.7,284.1L521.3,296.7 M508.7,296.7L521.3,284.1" stroke-width="1.3"/>
<path d="M515,290.4V314.4 M507.5,301.9L515,314.4L522.5,301.9" stroke-width="1.3" stroke-linejoin="miter"/>
<path d="M377.7,278.6Q400,282 421,283.2Q438,273.5 452,263.3L486,228.5" stroke-width="2.1" stroke-linejoin="round"/>
</g>
<text x="24.1" y="389.8" font-size="14.2" text-anchor="start" textLength="16.1" lengthAdjust="spacingAndGlyphs">28</text>
<text x="24.1" y="339.36" font-size="14.2" text-anchor="start" textLength="16.1" lengthAdjust="spacingAndGlyphs">29</text>
<text x="24.1" y="284.01" font-size="14.2" text-anchor="start" textLength="16.1" lengthAdjust="spacingAndGlyphs">30</text>
<text x="24.1" y="228.67" font-size="14.2" text-anchor="start" textLength="16.1" lengthAdjust="spacingAndGlyphs">31</text>
<text x="24.1" y="173.33" font-size="14.2" text-anchor="start" textLength="16.1" lengthAdjust="spacingAndGlyphs">32</text>
<text x="24.1" y="117.99" font-size="14.2" text-anchor="start" textLength="16.1" lengthAdjust="spacingAndGlyphs">33</text>
<text x="24.1" y="62.64" font-size="14.2" text-anchor="start" textLength="16.1" lengthAdjust="spacingAndGlyphs">34</text>
<text x="24.1" y="10.9" font-size="14.2" text-anchor="start" textLength="16.1" lengthAdjust="spacingAndGlyphs">35</text>
<text x="44.4" y="409.3" font-size="14.2" text-anchor="start" textLength="7.4" lengthAdjust="spacingAndGlyphs">1</text>
<text x="121.9" y="409.3" font-size="14.2" text-anchor="start" textLength="16.2" lengthAdjust="spacingAndGlyphs">10</text>
<text x="200.8" y="409.3" font-size="14.2" text-anchor="start" textLength="23.2" lengthAdjust="spacingAndGlyphs">100</text>
<text x="277.9" y="409.3" font-size="14.2" text-anchor="start" textLength="31" lengthAdjust="spacingAndGlyphs">1000</text>
<text x="326" y="409.3" font-size="14.2" text-anchor="start" textLength="16.2" lengthAdjust="spacingAndGlyphs">10</text>
<text x="342.8" y="402.7" font-size="9.8" text-anchor="start" textLength="11" lengthAdjust="spacingAndGlyphs" stroke-width="0.4" style="stroke-width:0.4px">−3</text>
<text x="388.65" y="409.3" font-size="14.2" text-anchor="start" textLength="16.2" lengthAdjust="spacingAndGlyphs">10</text>
<text x="405.45" y="402.7" font-size="9.8" text-anchor="start" textLength="11" lengthAdjust="spacingAndGlyphs" stroke-width="0.4" style="stroke-width:0.4px">−2</text>
<text x="451.3" y="409.3" font-size="14.2" text-anchor="start" textLength="16.2" lengthAdjust="spacingAndGlyphs">10</text>
<text x="468.1" y="402.7" font-size="9.8" text-anchor="start" textLength="11" lengthAdjust="spacingAndGlyphs" stroke-width="0.4" style="stroke-width:0.4px">−1</text>
<text x="516.85" y="409.3" font-size="14.2" text-anchor="start" textLength="16.2" lengthAdjust="spacingAndGlyphs">10</text>
<text x="533.65" y="402.7" font-size="9.8" text-anchor="start" textLength="5.2" lengthAdjust="spacingAndGlyphs" stroke-width="0.4" style="stroke-width:0.4px">0</text>
<text x="579.5" y="409.3" font-size="14.2" text-anchor="start" textLength="16.2" lengthAdjust="spacingAndGlyphs">10</text>
<text x="596.3" y="402.7" font-size="9.8" text-anchor="start" textLength="5.2" lengthAdjust="spacingAndGlyphs" stroke-width="0.4" style="stroke-width:0.4px">1</text>
<text x="146.4" y="425.9" font-size="14.2" text-anchor="start" textLength="22.6" lengthAdjust="spacingAndGlyphs">Age</text>
<text x="178" y="425.9" font-size="14.2" text-anchor="start" textLength="34" lengthAdjust="spacingAndGlyphs">(Myr)</text>
<text x="368" y="425.9" font-size="14.2" text-anchor="start" textLength="60.7" lengthAdjust="spacingAndGlyphs">Accretion</text>
<text x="438.2" y="425.9" font-size="14.2" text-anchor="start" textLength="69.3" lengthAdjust="spacingAndGlyphs">Luminosity</text>
<text x="516" y="425.9" font-size="14.2" text-anchor="start" textLength="12" lengthAdjust="spacingAndGlyphs">(L</text>
<text x="528.6" y="429.2" font-size="9.8" style="font-family:'DejaVu Sans',sans-serif;stroke-width:0.45px">⊙</text>
<text x="537.2" y="425.9" font-size="14.2" text-anchor="start" textLength="3.8" lengthAdjust="spacingAndGlyphs">)</text>
<g transform="translate(12.9,0) rotate(-90)">
<text x="-288" y="0" font-size="14.2" textLength="18.5" lengthAdjust="spacingAndGlyphs">log</text>
<text x="-252.8" y="0" font-size="14.2" textLength="24.3" lengthAdjust="spacingAndGlyphs">FUV</text>
<text x="-220.3" y="0" font-size="14.2" textLength="68.8" lengthAdjust="spacingAndGlyphs">Luminosity</text>
<text x="-142.6" y="0" font-size="14.2" textLength="44.9" lengthAdjust="spacingAndGlyphs">(erg/s)</text>
</g>
</svg></body></html>
